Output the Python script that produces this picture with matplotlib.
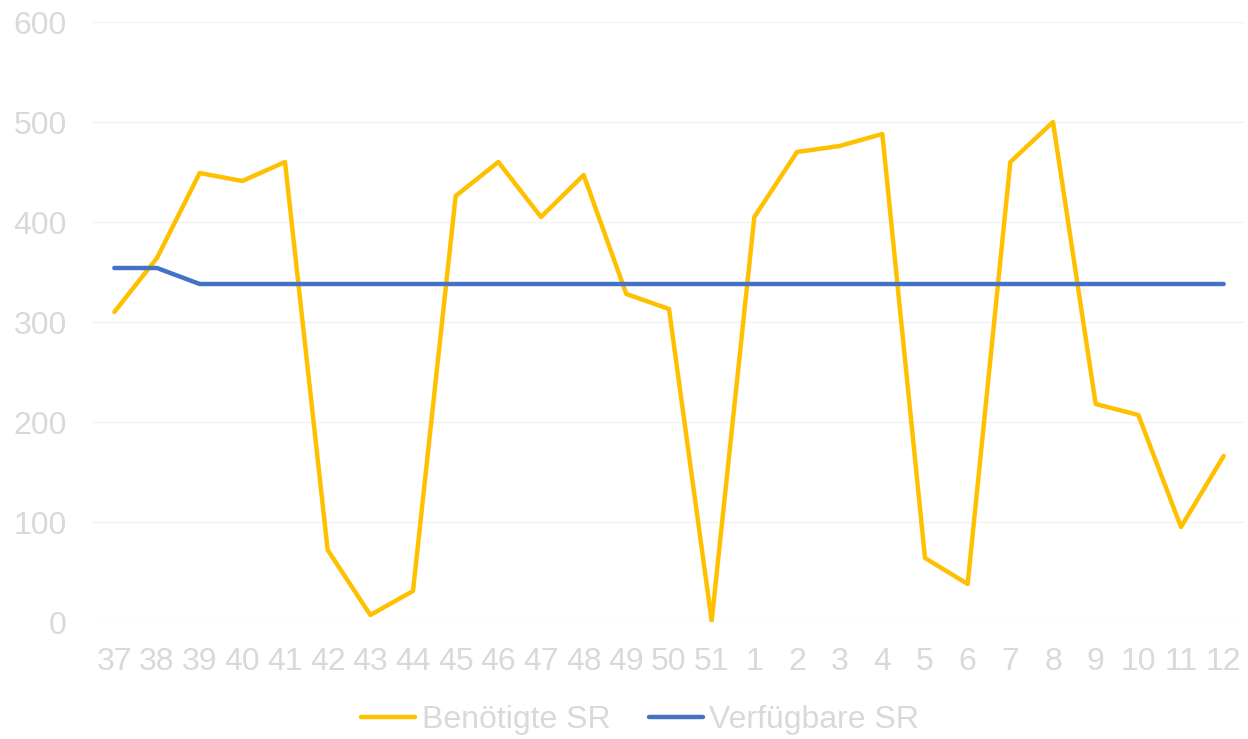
import matplotlib.pyplot as plt

plt.rcParams['font.family'] = ['Liberation Sans', 'DejaVu Sans']

weeks = ['37', '38', '39', '40', '41', '42', '43', '44', '45', '46', '47', '48', '49', '50',
         '51', '1', '2', '3', '4', '5', '6', '7', '8', '9', '10', '11', '12']
needed = [310, 364, 449, 441, 460, 72, 7, 31, 426, 460, 405, 447, 328, 313,
          1, 405, 470, 476, 488, 64, 38, 460, 500, 218, 207, 95, 166]
available = [354, 354, 338, 338, 338, 338, 338, 338, 338, 338, 338, 338, 338, 338,
             338, 338, 338, 338, 338, 338, 338, 338, 338, 338, 338, 338, 338]

text_color = '#D9D9D9'

fig = plt.figure(figsize=(12.48, 7.39), dpi=100)
ax = fig.add_axes([93 / 1248, 1 - 622 / 739, 1152 / 1248, 600 / 739])

x = range(len(weeks))
ax.plot(x, needed, color='#FFC000', lw=3.2, label='Benötigte SR', solid_capstyle='round')
ax.plot(x, available, color='#4472C4', lw=3.2, label='Verfügbare SR', solid_capstyle='round')

ax.set_xlim(-0.5, len(weeks) - 0.5)
ax.set_ylim(0, 600)
ax.set_yticks(range(0, 601, 100))
ax.set_xticks(list(x))
ax.set_xticklabels(weeks)
ax.grid(axis='y', color='#F2F2F2', lw=1)
ax.set_axisbelow(True)
for s in ax.spines.values():
    s.set_visible(False)
ax.tick_params(length=0, labelsize=23, labelcolor=text_color)
ax.tick_params(axis='y', pad=19)
ax.tick_params(axis='x', pad=18)

leg = fig.legend(loc='center', bbox_to_anchor=(0.513, 1 - 720 / 739), ncol=2, frameon=False,
                 fontsize=23, labelcolor=text_color, handlelength=1.7, handletextpad=0.2,
                 columnspacing=1.2)
for h in leg.legend_handles:
    h.set_solid_capstyle('round')

fig.savefig('out.png', dpi=100)
